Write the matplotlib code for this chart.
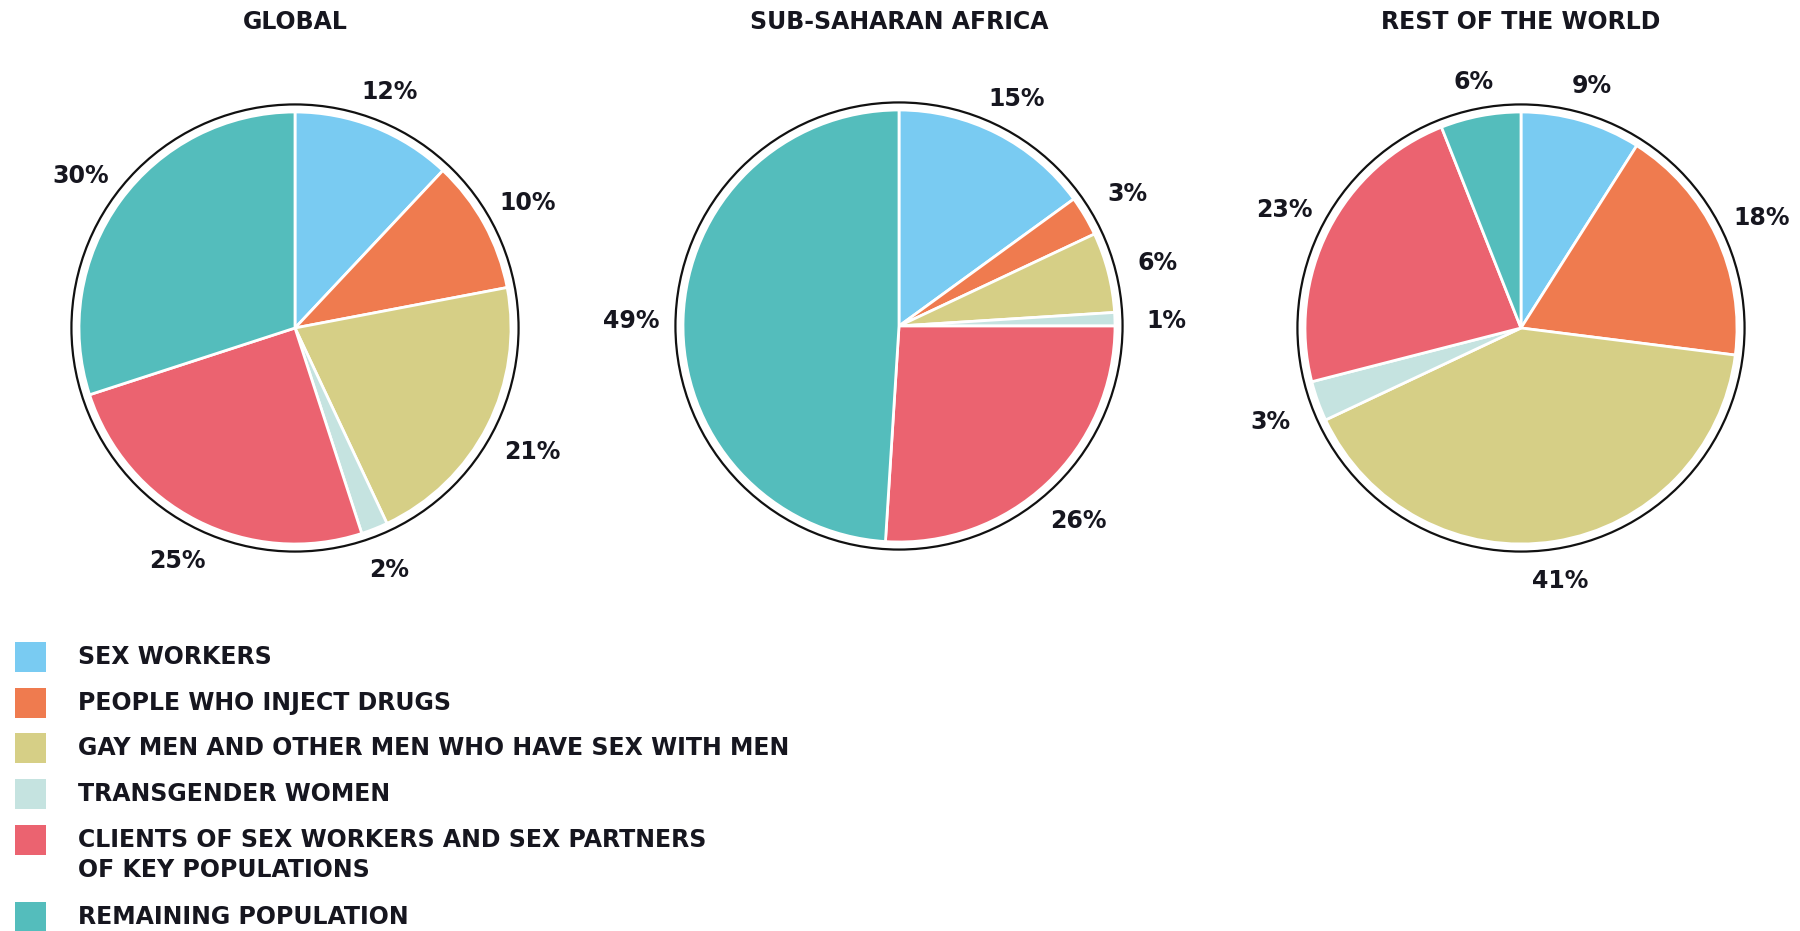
import numpy as np
import matplotlib.pyplot as plt
from matplotlib.patches import Circle, Rectangle

# ==== Data ====
categories = ['SEX WORKERS',
              'PEOPLE WHO INJECT DRUGS',
              'GAY MEN AND OTHER MEN WHO HAVE SEX WITH MEN',
              'TRANSGENDER WOMEN',
              'CLIENTS OF SEX WORKERS AND SEX PARTNERS\nOF KEY POPULATIONS',
              'REMAINING POPULATION']
colors = ['#79CBF2', '#EF7B4F', '#D6CF86', '#C5E3E0', '#EB6370', '#54BDBC']

regions = ['GLOBAL', 'SUB-SAHARAN AFRICA', 'REST OF THE WORLD']
global_share = [12, 10, 21, 2, 25, 30]
ssa_share = [15, 3, 6, 1, 26, 49]
row_share = [9, 18, 41, 3, 23, 6]
shares = [global_share, ssa_share, row_share]

# ==== Layout (pixels) ====
W, H = 1800, 931
R = 216                      # pie radius in px
L = 1.3                      # axes half-extent in pie units
centers = [(295, 328), (899, 326), (1521, 328)]
txt_color = '#16161f'

fig = plt.figure(figsize=(W / 100, H / 100), dpi=100)

for (cx, cy), vals, title in zip(centers, shares, regions):
    size = 2 * L * R
    ax = fig.add_axes([(cx - size / 2) / W, (H - cy - size / 2) / H, size / W, size / H])
    wedges, texts = ax.pie(vals, colors=colors, startangle=90, counterclock=False,
                           labels=[f'{v}%' for v in vals], labeldistance=1.16,
                           wedgeprops=dict(edgecolor='white', linewidth=2),
                           textprops=dict(ha='center', va='center', fontsize=17,
                                          fontweight='bold', color=txt_color))
    # side labels sit further out than top/bottom ones
    for w, t in zip(wedges, texts):
        th = np.deg2rad((w.theta1 + w.theta2) / 2)
        d = 1.16 + 0.08 * abs(np.cos(th))
        t.set_position((d * np.cos(th), d * np.sin(th) - 0.015))
    ax.add_patch(Circle((0, 0), 1.035, fill=False, edgecolor='#111111', linewidth=1.6))
    ax.set_xlim(-L, L)
    ax.set_ylim(-L, L)
    ax.set_aspect('equal')
    ax.axis('off')
    fig.text(cx / W, 1 - 22 / H, title, ha='center', va='center',
             fontsize=17, fontweight='bold', color=txt_color)

# ==== Legend ====
lax = fig.add_axes([0, 0, 1, 1])
lax.set_xlim(0, W)
lax.set_ylim(H, 0)
lax.axis('off')
row_y = [657, 703, 748, 794, 840, 917]
for y, c, lab in zip(row_y, colors, categories):
    lax.add_patch(Rectangle((15, y - 15), 31, 30, facecolor=c, edgecolor='none'))
    if '\n' in lab:
        lax.text(78, y - 12, lab, ha='left', va='top', fontsize=17,
                 fontweight='bold', color=txt_color, linespacing=1.3)
    else:
        lax.text(78, y, lab, ha='left', va='center', fontsize=17,
                 fontweight='bold', color=txt_color)

fig.savefig('out.png', dpi=100, facecolor='white')
